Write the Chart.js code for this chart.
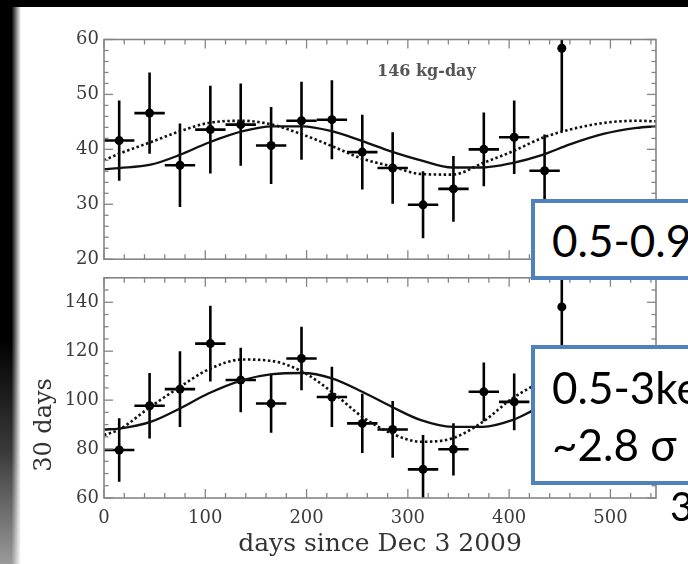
<!DOCTYPE html>
<html><head><meta charset="utf-8">
<script src="https://cdn.jsdelivr.net/npm/chart.js@4"></script>
<style>
html,body{margin:0;padding:0;background:#fff;}
body{width:688px;height:564px;overflow:hidden;position:relative;}
canvas{position:absolute;left:0;}
#c1{top:0;}
#c2{top:262px;}
.band-top{position:absolute;left:0;top:0;width:688px;height:7px;background:#000;}
.band-left{position:absolute;left:0;top:0;width:21px;height:564px;
 background:linear-gradient(to bottom,#000 0%,#000 60%,#3a3a3a 80%,#9a9a9a 100%);
 -webkit-mask-image:linear-gradient(to right,#000 55%,transparent 100%);mask-image:linear-gradient(to right,#000 55%,transparent 100%);}
.box{position:absolute;left:531px;width:200px;border:4px solid #4F81BD;background:#fff;box-sizing:border-box;}
.bt{position:absolute;font-family:Lato,'Open Sans',sans-serif;font-size:44px;line-height:44px;color:#000;white-space:nowrap;}
.ytitle{position:absolute;font-family:'DejaVu Serif',serif;font-size:24px;color:#333;white-space:nowrap;}
.note{position:absolute;font-family:'DejaVu Serif',serif;font-weight:bold;font-size:16px;color:#555;white-space:nowrap;}
</style>
</head>
<body>
<canvas id="c1" width="688" height="275"></canvas>
<canvas id="c2" width="688" height="302"></canvas>
<div class="note" style="left:377px;top:61px;">146 kg-day</div>
<div class="ytitle" style="left:-17px;top:410px;width:120px;height:30px;line-height:30px;text-align:center;transform:rotate(-90deg);">30 days</div>
<div class="box" style="top:199px;height:81px;"></div>
<div class="bt" style="left:552px;top:218px;">0.5-0.9keV</div>
<div class="box" style="top:345px;height:140px;"></div>
<div class="bt" style="left:552px;top:365px;">0.5-3keV</div>
<div class="bt" style="left:552px;top:422px;">~2.8 σ</div>
<div class="bt" style="left:670px;top:486px;font-size:40px;line-height:40px;">3</div>
<div class="band-top"></div>
<div class="band-left"></div>
<script>
// ---- data ----
const xTicks = [0, 100, 200, 300, 400, 500];
const topYTicks = [20, 30, 40, 50, 60];
const botYTicks = [60, 80, 100, 120, 140];

// top panel (146 kg-day)
const topDays = [15, 45, 75, 105, 135, 165, 195, 225, 255, 285, 315, 345, 375, 405, 435, 452];
const topVals = [41.6, 46.6, 37.1, 43.6, 44.5, 40.7, 45.2, 45.4, 39.5, 36.6, 29.9, 32.8, 40.0, 42.2, 36.1, 58.4];
const topErr  = [7.3, 7.4, 7.6, 8.0, 7.5, 7.0, 7.1, 7.2, 6.8, 6.5, 6.1, 6.0, 6.7, 6.7, 6.6, 15.1];
const topXErr = [15, 15, 15, 15, 15, 15, 15, 15, 15, 15, 15, 15, 15, 15, 15, 0];

const topSolidDays = [0, 15, 46, 75, 103, 137, 166, 196, 225, 255, 284, 313, 344, 374, 403, 433, 460, 493, 526, 545];
const topSolid     = [36.4, 36.6, 37.2, 39.0, 41.2, 43.3, 44.2, 44.2, 43.3, 41.5, 39.6, 38.0, 36.7, 36.7, 37.5, 39.0, 40.9, 42.8, 43.9, 44.2];
const topDotDays   = [0, 15, 46, 75, 103, 137, 166, 196, 225, 255, 284, 313, 344, 374, 403, 433, 460, 493, 526, 545];
const topDotted    = [38.0, 39.2, 41.3, 43.3, 44.8, 45.2, 44.5, 42.7, 40.6, 38.3, 36.9, 35.5, 35.4, 37.5, 39.6, 42.1, 43.6, 44.8, 45.2, 45.1];

// bottom panel (30 days)
const botDays = [15, 45, 75, 105, 135, 165, 195, 225, 255, 285, 315, 345, 375, 405, 452];
const botVals = [79.6, 97.7, 104.5, 123.1, 108.2, 98.6, 117.0, 101.3, 90.5, 88.0, 71.7, 79.9, 103.4, 99.3, 138.1];
const botErr  = [13.0, 13.4, 15.5, 15.5, 13.2, 11.9, 13.0, 12.3, 12.1, 11.6, 14.0, 10.7, 12.0, 11.6, 18.0];
const botXErr = [15, 15, 15, 15, 15, 15, 15, 15, 15, 15, 15, 15, 15, 15, 0];

const botSolidDays = [0, 15, 46, 75, 103, 137, 166, 196, 225, 255, 284, 313, 344, 374, 403, 424];
const botSolid     = [88.0, 88.4, 91.1, 96.6, 102.7, 108.2, 110.6, 111.1, 108.9, 103.4, 97.3, 91.8, 89.1, 89.1, 91.8, 95.9];
const botDotDays   = [0, 15, 46, 75, 103, 137, 166, 196, 225, 255, 284, 313, 344, 374, 403, 425];
const botDotted    = [85.7, 88.0, 97.3, 105.4, 112.5, 116.6, 116.0, 111.6, 103.4, 93.2, 86.4, 83.0, 84.4, 91.1, 100.7, 106.1];

// ---- helpers ----
const pts = (xs, ys) => xs.map((d, i) => ({x: d, y: ys[i]}));

function makeErrorBars(days, vals, err, xerr) {
  return {
    id: 'errorBars',
    beforeDatasetsDraw(chart) {
      const {ctx, chartArea: a, scales: {x, y}} = chart;
      ctx.save();
      ctx.beginPath(); ctx.rect(a.left, a.top, a.right - a.left, a.bottom - a.top); ctx.clip();
      ctx.strokeStyle = '#000'; ctx.lineWidth = 2.6; ctx.lineCap = 'butt';
      days.forEach((d, i) => {
        const px = x.getPixelForValue(d);
        const py = y.getPixelForValue(vals[i]);
        ctx.beginPath();
        ctx.moveTo(px, y.getPixelForValue(vals[i] - err[i]));
        ctx.lineTo(px, y.getPixelForValue(vals[i] + err[i]));
        if (xerr[i] > 0) {
          ctx.moveTo(x.getPixelForValue(d - xerr[i]), py);
          ctx.lineTo(x.getPixelForValue(d + xerr[i]), py);
        }
        ctx.stroke();
      });
      ctx.restore();
    }
  };
}

function makeFrame(xMinor, xMajor, yMinor, yMajor) {
  return {
    id: 'frame',
    afterDraw(chart) {
      const {ctx, chartArea: a, scales: {x, y}} = chart;
      ctx.save();
      ctx.strokeStyle = '#858585';
      ctx.lineWidth = 1.6;
      ctx.strokeRect(a.left, a.top, a.right - a.left, a.bottom - a.top);
      ctx.lineWidth = 1.3;
      const seg = (x0, y0, x1, y1) => { ctx.beginPath(); ctx.moveTo(x0, y0); ctx.lineTo(x1, y1); ctx.stroke(); };
      for (let v = x.min; v <= x.max; v += xMinor) {
        const px = x.getPixelForValue(v);
        const len = (v % xMajor === 0) ? 9 : 5;
        seg(px, a.top, px, a.top + len);
        seg(px, a.bottom, px, a.bottom - len);
      }
      for (let v = y.min; v <= y.max; v += yMinor) {
        const py = y.getPixelForValue(v);
        const len = (v % yMajor === 0) ? 9 : 4.5;
        seg(a.left, py, a.left + len, py);
        seg(a.right, py, a.right - len, py);
      }
      ctx.restore();
    }
  };
}

const tickFont = {family: 'DejaVu Serif', size: 18};
const tickColor = '#3c3c3c';

function curve(data, dashed) {
  return {
    data, showLine: true, pointRadius: 0, fill: false,
    borderColor: '#111', borderWidth: dashed ? 2.6 : 2.3,
    borderDash: dashed ? [2.5, 2.5] : [],
    cubicInterpolationMode: 'monotone'
  };
}
function points(data) {
  return { data, showLine: false, pointRadius: 4.5, pointBackgroundColor: '#000', pointBorderWidth: 0 };
}

// ---- top chart ----
new Chart(document.getElementById('c1'), {
  type: 'scatter',
  data: { datasets: [
    curve(pts(topSolidDays, topSolid), false),
    curve(pts(topDotDays, topDotted), true),
    points(pts(topDays, topVals))
  ]},
  options: {
    responsive: false, animation: false, events: [],
    layout: { padding: {left: 0, right: 32, top: 39.5, bottom: 15} },
    plugins: { legend: {display: false}, tooltip: {enabled: false} },
    scales: {
      x: { type: 'linear', min: 0, max: 545, display: false },
      y: {
        type: 'linear', min: 20, max: 60,
        afterBuildTicks: s => { s.ticks = topYTicks.map(v => ({value: v})); },
        afterFit: s => { s.width = 104; },
        ticks: { font: tickFont, color: tickColor, padding: 5 },
        grid: { display: false, drawTicks: false },
        border: { display: false }
      }
    }
  },
  plugins: [makeErrorBars(topDays, topVals, topErr, topXErr), makeFrame(20, 100, 2, 10)]
});

// ---- bottom chart ----
new Chart(document.getElementById('c2'), {
  type: 'scatter',
  data: { datasets: [
    curve(pts(botSolidDays, botSolid), false),
    curve(pts(botDotDays, botDotted), true),
    points(pts(botDays, botVals))
  ]},
  options: {
    responsive: false, animation: false, events: [],
    layout: { padding: {left: 0, right: 32, top: 15.5, bottom: 0} },
    plugins: { legend: {display: false}, tooltip: {enabled: false} },
    scales: {
      x: {
        type: 'linear', min: 0, max: 545,
        afterBuildTicks: s => { s.ticks = xTicks.map(v => ({value: v})); },
        afterFit: s => { s.height = 66; },
        ticks: { font: tickFont, color: tickColor, padding: 10, maxRotation: 0, autoSkip: false },
        grid: { display: false, drawTicks: false },
        border: { display: false },
        title: { display: true, text: 'days since Dec 3 2009', font: {family: 'DejaVu Serif', size: 25}, color: '#333', padding: {top: 0, bottom: 5} }
      },
      y: {
        type: 'linear', min: 60, max: 150,
        afterBuildTicks: s => { s.ticks = botYTicks.map(v => ({value: v})); },
        afterFit: s => { s.width = 104; },
        ticks: { font: tickFont, color: tickColor, padding: 5 },
        grid: { display: false, drawTicks: false },
        border: { display: false }
      }
    }
  },
  plugins: [makeErrorBars(botDays, botVals, botErr, botXErr), makeFrame(20, 100, 5, 20)]
});
</script>
</body></html>
